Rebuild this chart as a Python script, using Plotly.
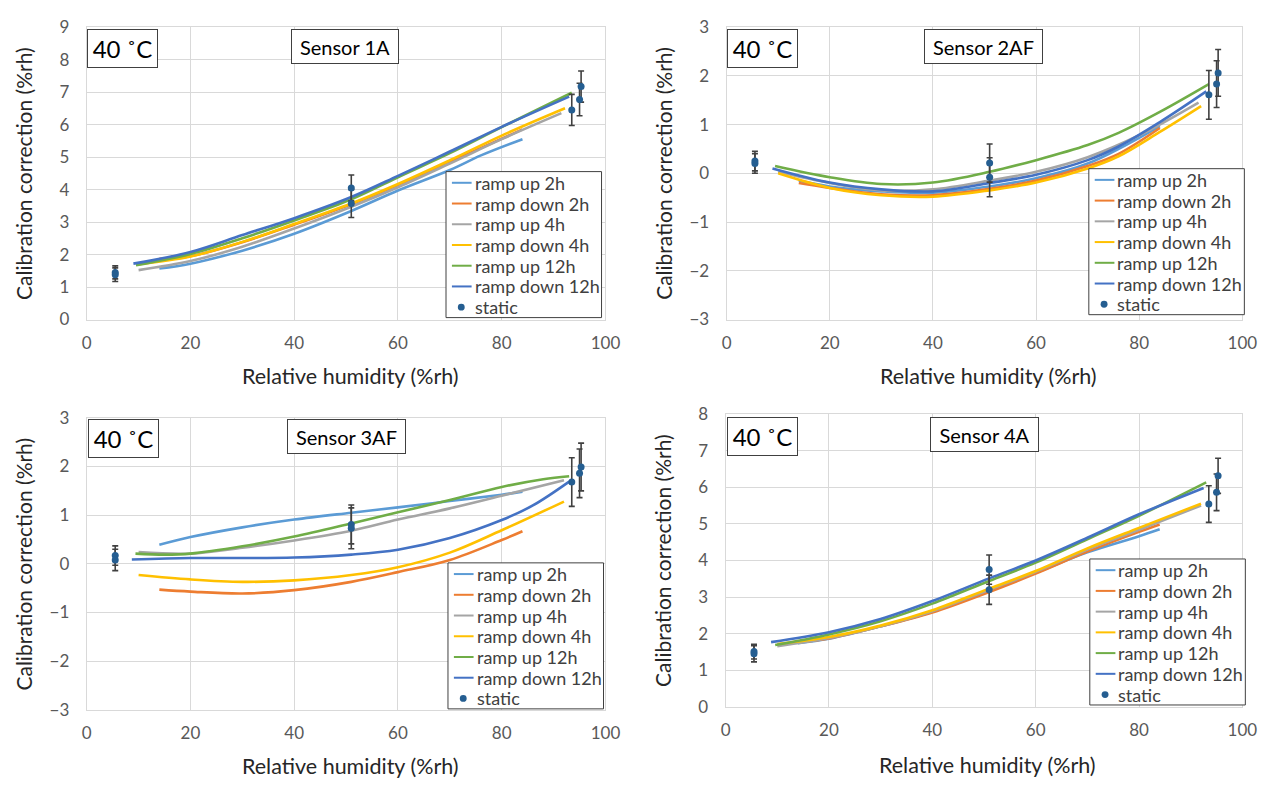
import plotly.graph_objects as go

W, H = 1282, 787

# ---------------- data ----------------
series_names = ["ramp up 2h", "ramp down 2h", "ramp up 4h", "ramp down 4h", "ramp up 12h", "ramp down 12h"]
series_colors = ["#5B9BD5", "#ED7D31", "#A5A5A5", "#FFC000", "#70AD47", "#4472C4"]
static_name = "static"
static_color = "#255E91"

sensor_titles = ["Sensor 1A", "Sensor 2AF", "Sensor 3AF", "Sensor 4A"]
temperature_label = "40 ˚C"
x_title = "Relative humidity (%rh)"
y_title = "Calibration correction (%rh)"

# Sensor 1A
s1_up2_x = [14, 20, 30, 40, 51, 60, 70, 76, 84]
s1_up2_y = [1.57, 1.72, 2.12, 2.64, 3.34, 3.97, 4.6, 5.05, 5.55]
s1_dn2_x = [14, 20, 30, 40, 51, 60, 70, 84]
s1_dn2_y = [1.87, 1.95, 2.38, 2.92, 3.55, 4.14, 4.85, 5.85]
s1_up4_x = [10, 20, 30, 40, 51, 60, 70, 80, 91.5]
s1_up4_y = [1.52, 1.80, 2.24, 2.80, 3.47, 4.07, 4.8, 5.55, 6.35]
s1_dn4_x = [10, 20, 30, 40, 51, 60, 70, 80, 92.2]
s1_dn4_y = [1.70, 1.94, 2.39, 2.94, 3.57, 4.17, 4.9, 5.66, 6.5]
s1_up12_x = [9.5, 20, 30, 40, 51, 60, 70, 80, 93.5]
s1_up12_y = [1.67, 2.02, 2.50, 3.05, 3.70, 4.38, 5.12, 5.92, 6.98]
s1_dn12_x = [9, 20, 30, 40, 51, 60, 70, 80, 93]
s1_dn12_y = [1.72, 2.08, 2.60, 3.12, 3.77, 4.42, 5.17, 5.93, 6.86]
s1_static_x = [5.5, 5.5, 51, 51, 93.5, 95, 95.3]
s1_static_y = [1.45, 1.38, 4.05, 3.57, 6.45, 6.77, 7.17]
s1_static_err = [0.2, 0.21, 0.4, 0.43, 0.48, 0.5, 0.48]

# Sensor 2AF
s2_up2_x = [14, 20, 30, 40, 51, 60, 70, 84]
s2_up2_y = [-0.15, -0.27, -0.37, -0.40, -0.27, -0.10, 0.20, 0.97]
s2_dn2_x = [14, 20, 30, 40, 51, 60, 70, 76, 84]
s2_dn2_y = [-0.20, -0.30, -0.43, -0.45, -0.32, -0.15, 0.15, 0.40, 0.93]
s2_up4_x = [10, 20, 30, 40, 51, 60, 70, 80, 91.5]
s2_up4_y = [0.03, -0.20, -0.35, -0.33, -0.15, 0.03, 0.33, 0.78, 1.45]
s2_dn4_x = [10, 20, 30, 40, 51, 60, 70, 76, 84, 92]
s2_dn4_y = [0.00, -0.30, -0.45, -0.48, -0.35, -0.19, 0.10, 0.35, 0.85, 1.38]
s2_up12_x = [9.4, 20, 30, 40, 51, 60, 70, 76, 84, 93.5]
s2_up12_y = [0.15, -0.08, -0.22, -0.19, 0.03, 0.27, 0.58, 0.83, 1.26, 1.83]
s2_dn12_x = [8.9, 20, 30, 40, 51, 60, 70, 76, 84, 93]
s2_dn12_y = [0.10, -0.19, -0.33, -0.37, -0.20, -0.03, 0.27, 0.55, 1.05, 1.68]
s2_static_x = [5.5, 5.5, 51, 51, 93.5, 95, 95.3]
s2_static_y = [0.25, 0.20, 0.21, -0.08, 1.61, 1.83, 2.06]
s2_static_err = [0.2, 0.2, 0.39, 0.4, 0.5, 0.48, 0.48]

# Sensor 3AF
s3_up2_x = [14, 20, 30, 40, 51, 60, 70, 80, 84]
s3_up2_y = [0.39, 0.55, 0.75, 0.91, 1.05, 1.16, 1.29, 1.42, 1.48]
s3_dn2_x = [14, 20, 30, 40, 51, 60, 70, 80, 84]
s3_dn2_y = [-0.53, -0.57, -0.61, -0.54, -0.37, -0.17, 0.08, 0.49, 0.67]
s3_up4_x = [10, 20, 30, 40, 51, 60, 70, 80, 92]
s3_up4_y = [0.24, 0.21, 0.33, 0.48, 0.68, 0.91, 1.14, 1.40, 1.72]
s3_dn4_x = [10, 20, 30, 40, 51, 60, 70, 80, 92]
s3_dn4_y = [-0.23, -0.32, -0.37, -0.34, -0.23, -0.07, 0.23, 0.69, 1.28]
s3_up12_x = [9.4, 15, 20, 30, 40, 51, 60, 70, 80, 88, 93]
s3_up12_y = [0.21, 0.19, 0.21, 0.36, 0.56, 0.83, 1.06, 1.31, 1.58, 1.74, 1.80]
s3_dn12_x = [8.7, 20, 30, 40, 51, 60, 70, 80, 86, 93]
s3_dn12_y = [0.09, 0.12, 0.12, 0.13, 0.19, 0.29, 0.53, 0.90, 1.20, 1.69]
s3_static_x = [5.5, 5.5, 51, 51, 93.5, 95, 95.3]
s3_static_y = [0.17, 0.08, 0.81, 0.73, 1.68, 1.86, 1.99]
s3_static_err = [0.2, 0.22, 0.4, 0.42, 0.5, 0.5, 0.49]

# Sensor 4A
s4_up2_x = [14, 20, 30, 40, 51, 60, 70, 80, 84]
s4_up2_y = [1.74, 1.86, 2.20, 2.60, 3.18, 3.66, 4.22, 4.66, 4.85]
s4_dn2_x = [14, 20, 30, 40, 51, 60, 70, 80, 84]
s4_dn2_y = [1.76, 1.87, 2.20, 2.58, 3.14, 3.64, 4.24, 4.78, 4.98]
s4_up4_x = [10, 20, 30, 40, 51, 60, 70, 80, 92]
s4_up4_y = [1.66, 1.88, 2.20, 2.61, 3.20, 3.69, 4.30, 4.84, 5.50]
s4_dn4_x = [10, 20, 30, 40, 51, 60, 70, 80, 92]
s4_dn4_y = [1.72, 1.91, 2.22, 2.64, 3.23, 3.71, 4.33, 4.89, 5.55]
s4_up12_x = [9.6, 20, 30, 40, 51, 60, 70, 80, 93]
s4_up12_y = [1.69, 1.98, 2.34, 2.82, 3.44, 3.94, 4.58, 5.22, 6.13]
s4_dn12_x = [8.8, 20, 30, 40, 51, 60, 70, 80, 92.5]
s4_dn12_y = [1.77, 2.04, 2.40, 2.89, 3.51, 4.00, 4.62, 5.26, 5.98]
s4_static_x = [5.5, 5.5, 51, 51, 93.5, 95, 95.3]
s4_static_y = [1.51, 1.45, 3.75, 3.20, 5.54, 5.86, 6.31]
s4_static_err = [0.2, 0.22, 0.4, 0.4, 0.5, 0.5, 0.48]

y_ranges = [[0, 9], [-3, 3], [-3, 3], [0, 8]]

panels = [
    ([(s1_up2_x, s1_up2_y), (s1_dn2_x, s1_dn2_y), (s1_up4_x, s1_up4_y), (s1_dn4_x, s1_dn4_y),
      (s1_up12_x, s1_up12_y), (s1_dn12_x, s1_dn12_y)], (s1_static_x, s1_static_y, s1_static_err)),
    ([(s2_up2_x, s2_up2_y), (s2_dn2_x, s2_dn2_y), (s2_up4_x, s2_up4_y), (s2_dn4_x, s2_dn4_y),
      (s2_up12_x, s2_up12_y), (s2_dn12_x, s2_dn12_y)], (s2_static_x, s2_static_y, s2_static_err)),
    ([(s3_up2_x, s3_up2_y), (s3_dn2_x, s3_dn2_y), (s3_up4_x, s3_up4_y), (s3_dn4_x, s3_dn4_y),
      (s3_up12_x, s3_up12_y), (s3_dn12_x, s3_dn12_y)], (s3_static_x, s3_static_y, s3_static_err)),
    ([(s4_up2_x, s4_up2_y), (s4_dn2_x, s4_dn2_y), (s4_up4_x, s4_up4_y), (s4_dn4_x, s4_dn4_y),
      (s4_up12_x, s4_up12_y), (s4_dn12_x, s4_dn12_y)], (s4_static_x, s4_static_y, s4_static_err)),
]

# ---------------- layout geometry (pixels) ----------------
areas = [(83, 610, 16.5, 317), (733, 1257, 16.5, 317), (83, 610, 418, 718), (732, 1257, 414, 715)]
legend_boxes = [(448, 165), (1101, 162), (450, 567), (1102, 563)]  # left, top
LEG_W, LEG_H, LEG_ROW = 158, 150, 21.3
temp_boxes = [(83, 18), (733, 18), (84, 419), (733, 417)]
sensor_boxes = [(291, 18, 108), (934, 18, 119), (286, 419, 119), (940, 417, 109)]
xtitle_y = [375, 375, 776, 775]

FONT = "Lato"
GRID = "#D9D9D9"
TICK_COL = "#595959"
TXT = "#262626"
BORDER = "#404040"


def px_x(p):
    return p / W


def px_y(p):
    return 1 - p / H


fig = go.Figure()
annotations = []
shapes = []
layout = dict(
    width=W, height=H, margin=dict(l=0, r=0, t=0, b=0),
    paper_bgcolor="white", plot_bgcolor="white",
    font=dict(family=FONT, color=TXT), showlegend=False,
)

for k, (curves, static) in enumerate(panels):
    n = k + 1
    xa = "x" if n == 1 else f"x{n}"
    ya = "y" if n == 1 else f"y{n}"
    for (cx, cy), name, col in zip(curves, series_names, series_colors):
        fig.add_trace(go.Scatter(
            x=cx, y=cy, mode="lines", name=name,
            line=dict(color=col, width=2.6, shape="spline", smoothing=1.0),
            xaxis=xa, yaxis=ya,
        ))
    sx, sy, se = static
    fig.add_trace(go.Scatter(
        x=sx, y=sy, mode="markers", name=static_name,
        marker=dict(color=static_color, size=7),
        error_y=dict(type="data", array=se, visible=True, color=BORDER, thickness=1.6, width=3),
        xaxis=xa, yaxis=ya,
    ))

    l, r, t, b = areas[k]
    axkey_x = "xaxis" if n == 1 else f"xaxis{n}"
    axkey_y = "yaxis" if n == 1 else f"yaxis{n}"
    layout[axkey_x] = dict(
        domain=[px_x(l), px_x(r)], anchor=ya, range=[0, 100], dtick=20, tick0=0,
        showgrid=True, gridcolor=GRID, gridwidth=1, zeroline=False,
        showline=True, linecolor=GRID, linewidth=1, mirror=True,
        ticks="", ticklabelstandoff=8,
        tickfont=dict(family=FONT, size=17, color=TICK_COL),
    )
    layout[axkey_y] = dict(
        domain=[px_y(b), px_y(t)], anchor=xa, range=y_ranges[k], dtick=1,
        showgrid=True, gridcolor=GRID, gridwidth=1, zeroline=False,
        showline=True, linecolor=GRID, linewidth=1, mirror=True,
        ticks="", ticklabelstandoff=13,
        tickfont=dict(family=FONT, size=17, color=TICK_COL),
    )

    # axis titles
    annotations.append(dict(
        text=x_title, x=px_x((l + r) / 2 + 4), y=px_y(xtitle_y[k]), xref="paper", yref="paper",
        xanchor="center", yanchor="middle", showarrow=False,
        font=dict(family=FONT, size=21.5, color=TXT)))
    annotations.append(dict(
        text=y_title, x=px_x(l - 64), y=px_y((t + b) / 2), xref="paper", yref="paper",
        xanchor="center", yanchor="middle", showarrow=False, textangle=-90,
        font=dict(family=FONT, size=21, color=TXT)))

    # boxed labels
    tx, ty = temp_boxes[k]
    annotations.append(dict(
        text=temperature_label, x=px_x(tx), y=px_y(ty), xref="paper", yref="paper",
        xanchor="left", yanchor="top", showarrow=False, width=69, height=37,
        bordercolor=BORDER, borderwidth=1, borderpad=0, bgcolor="white",
        font=dict(family=FONT, size=24, color="black")))
    sxp, syp, sw = sensor_boxes[k]
    annotations.append(dict(
        text=sensor_titles[k], x=px_x(sxp), y=px_y(syp), xref="paper", yref="paper",
        xanchor="left", yanchor="top", showarrow=False, width=sw - 2, height=33,
        bordercolor=BORDER, borderwidth=1, borderpad=0, bgcolor="white",
        font=dict(family=FONT, size=20, color="black")))

    # legend box (drawn as layout shapes + text, Excel style)
    lx, ly = legend_boxes[k]
    shapes.append(dict(type="rect", xref="paper", yref="paper", layer="above",
                       x0=px_x(lx), x1=px_x(lx + LEG_W), y0=px_y(ly + LEG_H), y1=px_y(ly),
                       line=dict(color=BORDER, width=1), fillcolor="white"))
    entries = list(zip(series_names, series_colors)) + [(static_name, static_color)]
    for i, (name, col) in enumerate(entries):
        cy = ly + 11.5 + LEG_ROW * i
        if name == static_name:
            shapes.append(dict(type="circle", xref="paper", yref="paper", layer="above",
                               x0=px_x(lx + 12), x1=px_x(lx + 19),
                               y0=px_y(cy + 3.5), y1=px_y(cy - 3.5),
                               line=dict(color=col, width=0), fillcolor=col))
        else:
            shapes.append(dict(type="line", xref="paper", yref="paper", layer="above",
                               x0=px_x(lx + 6), x1=px_x(lx + 26), y0=px_y(cy), y1=px_y(cy),
                               line=dict(color=col, width=2)))
        annotations.append(dict(
            text=name, x=px_x(lx + 27), y=px_y(cy), xref="paper", yref="paper",
            xanchor="left", yanchor="middle", showarrow=False,
            font=dict(family=FONT, size=18, color=BORDER)))

layout["annotations"] = annotations
layout["shapes"] = shapes
fig.update_layout(**layout)
fig.write_html("out.html")
